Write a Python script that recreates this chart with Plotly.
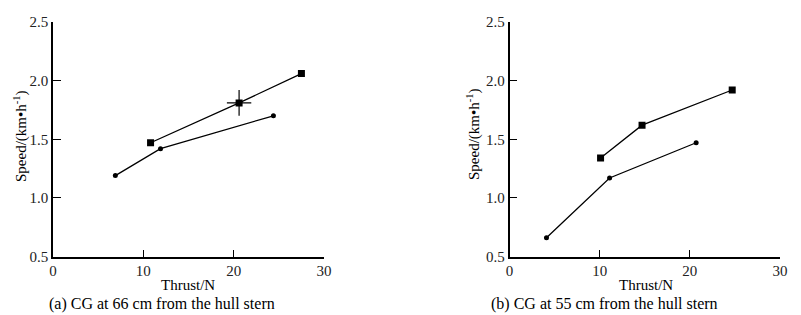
import plotly.graph_objects as go

W, H = 801, 315

# Data (a) CG at 66 cm
a_sq_x = [10.8, 20.6, 27.5]
a_sq_y = [1.47, 1.81, 2.06]
a_sq_ex = [0, 1.35, 0]
a_sq_ey = [0, 0.11, 0]
a_ci_x = [6.9, 11.9, 24.4]
a_ci_y = [1.19, 1.42, 1.70]

# Data (b) CG at 55 cm
b_sq_x = [10.1, 14.7, 24.7]
b_sq_y = [1.34, 1.62, 1.92]
b_ci_x = [4.1, 11.1, 20.7]
b_ci_y = [0.66, 1.17, 1.47]

x_ticks = [0, 10, 20, 30]
y_ticks = [0.5, 1.0, 1.5, 2.0, 2.5]
y_tick_text = ["0.5", "1.0", "1.5", "2.0", "2.5"]

FONT = "Liberation Serif, Times New Roman, serif"

def px(x):
    return x / W

def py(y):
    return 1 - y / H

fig = go.Figure()

line = dict(color="black", width=1.3)

fig.add_trace(go.Scatter(x=a_sq_x, y=a_sq_y, mode="lines+markers", line=line,
                         marker=dict(symbol="square", size=7, color="black"),
                         error_x=dict(type="data", array=a_sq_ex, width=0, color="black", thickness=1.2),
                         error_y=dict(type="data", array=a_sq_ey, width=0, color="black", thickness=1.2),
                         xaxis="x", yaxis="y", showlegend=False))
fig.add_trace(go.Scatter(x=a_ci_x, y=a_ci_y, mode="lines+markers", line=line,
                         marker=dict(symbol="circle", size=5, color="black"),
                         xaxis="x", yaxis="y", showlegend=False))
fig.add_trace(go.Scatter(x=b_sq_x, y=b_sq_y, mode="lines+markers", line=line,
                         marker=dict(symbol="square", size=7, color="black"),
                         xaxis="x2", yaxis="y2", showlegend=False))
fig.add_trace(go.Scatter(x=b_ci_x, y=b_ci_y, mode="lines+markers", line=line,
                         marker=dict(symbol="circle", size=5, color="black"),
                         xaxis="x2", yaxis="y2", showlegend=False))

ydom = [py(256.5), py(22)]

def xax(domain, anchor):
    return dict(domain=domain, anchor=anchor, range=[0, 30], tickvals=x_ticks,
                ticks="inside", ticklen=7, tickcolor="black", tickwidth=1.3,
                showline=True, linecolor="black", linewidth=1.5, showgrid=False,
                zeroline=False, tickfont=dict(family=FONT, size=15, color="#222"),
                ticklabelstandoff=0, fixedrange=True, automargin=False)

def yax(anchor):
    return dict(domain=ydom, anchor=anchor, range=[0.5, 2.5], tickvals=y_ticks,
                ticktext=y_tick_text, ticks="inside", ticklen=8, tickcolor="black",
                tickwidth=1.3, showline=True, linecolor="black", linewidth=1.5,
                showgrid=False, zeroline=False,
                tickfont=dict(family=FONT, size=15, color="#222"),
                ticklabelstandoff=0, fixedrange=True, automargin=False)

fig.update_layout(
    width=W, height=H,
    margin=dict(l=0, r=0, t=0, b=0, pad=0, autoexpand=False),
    paper_bgcolor="white", plot_bgcolor="white",
    xaxis=xax([px(53), px(324)], "y"),
    yaxis=yax("x"),
    xaxis2=xax([px(509.5), px(780)], "y2"),
    yaxis2=yax("x2"),
)

ann_font = dict(family=FONT, size=15, color="black")
cap_font = dict(family=FONT, size=16, color="black")
annotations = [
    dict(text="Thrust/N", x=px(188), y=py(285), xref="paper", yref="paper",
         showarrow=False, font=ann_font, xanchor="center", yanchor="middle"),
    dict(text="(a) CG at 66 cm from the hull stern", x=px(162), y=py(304),
         xref="paper", yref="paper", showarrow=False, font=cap_font,
         xanchor="center", yanchor="middle"),
    dict(text="Speed/(km•h<sup>-1</sup>)", x=px(20), y=py(136), xref="paper", yref="paper",
         showarrow=False, font=ann_font, textangle=-90, xanchor="center", yanchor="middle"),
    dict(text="Thrust/N", x=px(646), y=py(285), xref="paper", yref="paper",
         showarrow=False, font=ann_font, xanchor="center", yanchor="middle"),
    dict(text="(b) CG at 55 cm from the hull stern", x=px(604), y=py(304),
         xref="paper", yref="paper", showarrow=False, font=cap_font,
         xanchor="center", yanchor="middle"),
    dict(text="Speed/(km•h<sup>-1</sup>)", x=px(473), y=py(134), xref="paper", yref="paper",
         showarrow=False, font=ann_font, textangle=-90, xanchor="center", yanchor="middle"),
]
fig.update_layout(annotations=annotations)

fig.write_html("out.html", config={"displayModeBar": False},
               post_script="document.body.style.margin='0';document.body.style.overflow='hidden';")
